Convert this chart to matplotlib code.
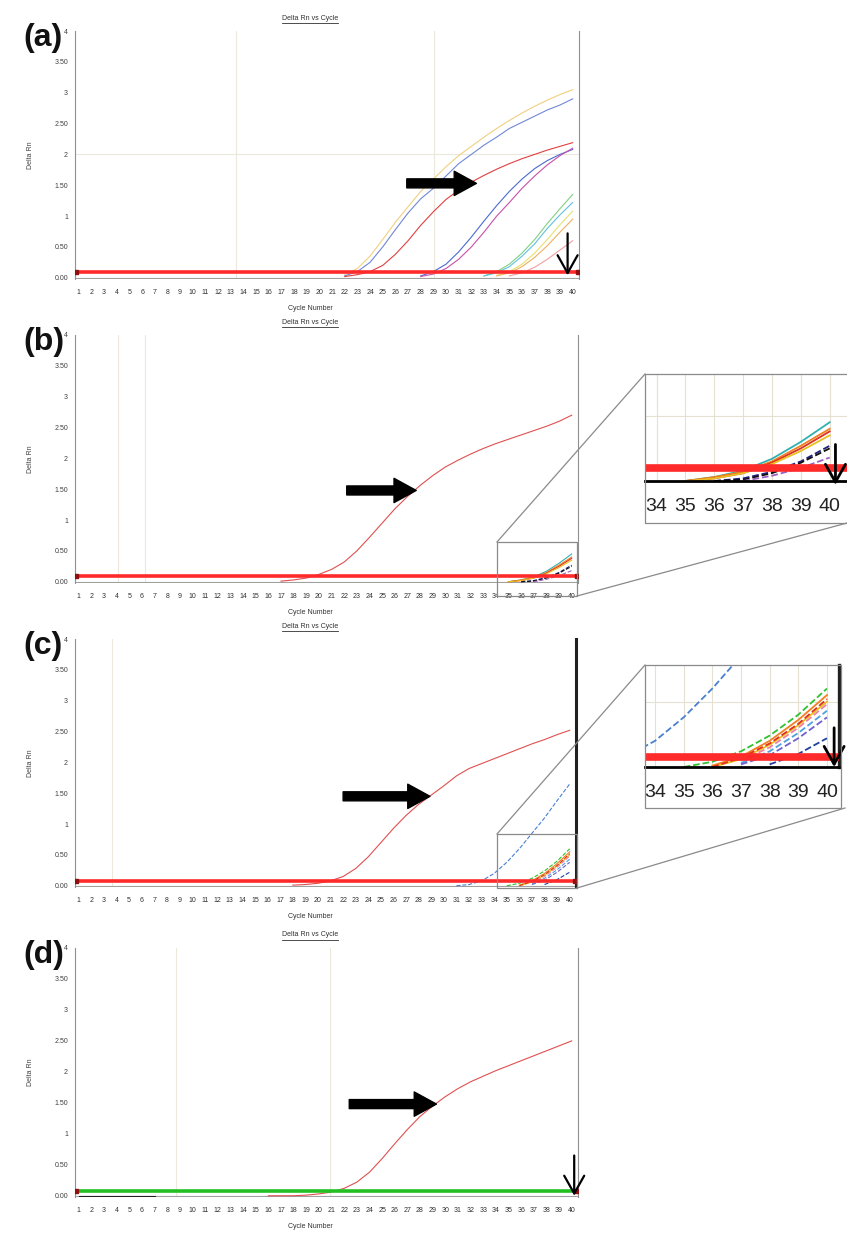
import numpy as np
import matplotlib
matplotlib.use('Agg')
import matplotlib.pyplot as plt
from matplotlib.patches import Rectangle
from matplotlib.lines import Line2D

plt.rcParams['font.family'] = ['Liberation Sans', 'DejaVu Sans']

W, H = 847, 1235

cycles = list(range(1, 41))
y_ticks = [0, 0.5, 1, 1.5, 2, 2.5, 3, 3.5, 4]
y_tick_labels = ['0.00', '0.50', '1', '1.50', '2', '2.50', '3', '3.50', '4']
inset_ticks = [34, 35, 36, 37, 38, 39, 40]

# each curve: (first cycle, Delta Rn values from that cycle to 40)
# panel (a)
a_yellow = (22, [0.05, 0.15, 0.35, 0.62, 0.90, 1.15, 1.40, 1.60, 1.80, 1.98, 2.13, 2.28, 2.42, 2.55, 2.67, 2.78, 2.88, 2.97, 3.05])
a_blue = (22, [0.03, 0.10, 0.25, 0.50, 0.78, 1.05, 1.28, 1.45, 1.65, 1.85, 2.00, 2.15, 2.28, 2.42, 2.52, 2.62, 2.72, 2.80, 2.90])
a_red = (22, [0.02, 0.05, 0.10, 0.20, 0.38, 0.60, 0.85, 1.07, 1.27, 1.42, 1.55, 1.66, 1.76, 1.85, 1.93, 2.00, 2.07, 2.13, 2.19])
a_blue2 = (28, [0.03, 0.10, 0.22, 0.42, 0.66, 0.92, 1.17, 1.40, 1.60, 1.77, 1.90, 2.00, 2.08])
a_magenta = (28, [0.02, 0.06, 0.15, 0.30, 0.50, 0.74, 1.00, 1.22, 1.45, 1.65, 1.83, 1.98, 2.10])
a_green = (33, [0.03, 0.10, 0.22, 0.40, 0.62, 0.88, 1.12, 1.35])
a_cyan = (33, [0.03, 0.08, 0.18, 0.35, 0.55, 0.80, 1.02, 1.22])
a_lyellow = (34, [0.04, 0.10, 0.22, 0.40, 0.62, 0.86, 1.08])
a_orange = (34, [0.03, 0.08, 0.18, 0.33, 0.52, 0.74, 0.95])
a_pink = (35, [0.03, 0.08, 0.17, 0.30, 0.45, 0.60])

# panel (b)
b_red = (17, [0.01, 0.03, 0.06, 0.12, 0.20, 0.32, 0.50, 0.72, 0.95, 1.18, 1.38, 1.56, 1.72, 1.86, 1.97, 2.07, 2.16, 2.24, 2.31, 2.38, 2.45, 2.52, 2.60, 2.70])
b_teal = (35, [0.0, 0.03, 0.08, 0.17, 0.30, 0.45])
b_orange = (35, [0.0, 0.03, 0.07, 0.15, 0.27, 0.40])
b_redlow = (35, [0.0, 0.02, 0.06, 0.14, 0.25, 0.38])
b_yellow = (35, [0.0, 0.02, 0.06, 0.13, 0.23, 0.35])
b_navy = (36, [0.0, 0.02, 0.07, 0.15, 0.27])
b_black = (36, [0.0, 0.01, 0.06, 0.14, 0.25])
b_purple = (37, [0.0, 0.04, 0.10, 0.18])

# panel (c)
c_red = (18, [0.01, 0.02, 0.04, 0.08, 0.15, 0.28, 0.47, 0.70, 0.93, 1.14, 1.32, 1.47, 1.62, 1.78, 1.90, 1.98, 2.06, 2.14, 2.22, 2.30, 2.37, 2.45, 2.52])
c_blue = (31, [0.0, 0.02, 0.08, 0.20, 0.38, 0.60, 0.85, 1.10, 1.38, 1.65])
c_green = (35, [0.0, 0.04, 0.12, 0.24, 0.40, 0.60])
c_orange = (36, [0.01, 0.08, 0.20, 0.36, 0.55])
c_yellow = (36, [0.0, 0.06, 0.17, 0.32, 0.50])
c_redlow = (36, [0.0, 0.07, 0.18, 0.33, 0.52])
c_pink = (37, [0.05, 0.15, 0.30, 0.48])
c_ltblue = (37, [0.03, 0.12, 0.26, 0.43])
c_purple = (37, [0.02, 0.09, 0.22, 0.38])
c_dkblue = (38, [0.02, 0.10, 0.22])

# panel (d)
d_red = (16, [0.0, 0.0, 0.0, 0.01, 0.03, 0.06, 0.12, 0.22, 0.38, 0.60, 0.84, 1.07, 1.28, 1.45, 1.60, 1.73, 1.84, 1.93, 2.02, 2.10, 2.18, 2.26, 2.34, 2.42, 2.50])
d_black = (1, [0.0, 0.0, 0.0, 0.0, 0.0, 0.0, 0.0])

thresholds = {'a': 0.10, 'b': 0.10, 'c': 0.08, 'd': 0.08}

a_curves = [(a_yellow, '#f0d080', '-'), (a_blue, '#7088d8', '-'), (a_red, '#e04040', '-'),
            (a_blue2, '#4a6ad0', '-'), (a_magenta, '#c850a8', '-'), (a_green, '#80d080', '-'),
            (a_cyan, '#60c0e0', '-'), (a_lyellow, '#e8e070', '-'), (a_orange, '#f0b060', '-'),
            (a_pink, '#f0a0a0', '-')]
b_curves = [(b_red, '#e05050', '-'), (b_teal, '#30b0b0', '-'), (b_orange, '#f08020', '-'),
            (b_redlow, '#e03020', '-'), (b_yellow, '#e8c020', '-'), (b_navy, '#202080', '--'),
            (b_black, '#101010', '--'), (b_purple, '#a060c0', '--')]
c_curves = [(c_red, '#e05050', '-'), (c_blue, '#4a80d0', '--'), (c_green, '#30c030', '--'),
            (c_orange, '#f08020', '-'), (c_yellow, '#e8c020', '-'), (c_redlow, '#e03020', '--'),
            (c_pink, '#f080a0', '--'), (c_ltblue, '#50a0e0', '--'), (c_purple, '#7060d0', '--'),
            (c_dkblue, '#2040a0', '--')]
d_curves = [(d_red, '#e05050', '-'), (d_black, '#202020', '-')]

fig = plt.figure(figsize=(W / 100, H / 100), dpi=100)


def px_axes(l, t, r, b):
    return fig.add_axes([l / W, 1 - b / H, (r - l) / W, (b - t) / H])


def plot_curves(ax, curves, lw=0.8):
    for (start, vals), col, ls in curves:
        xs = np.arange(start, start + len(vals))
        ax.plot(xs, vals, color=col, lw=lw, ls=ls, zorder=2)


panels = [
    ('(a)', 31, 279, 579, a_curves, 'a', '#ff2a2a', '#909090', 0.8),
    ('(b)', 335, 583, 578, b_curves, 'b', '#ff2a2a', '#909090', 0.8),
    ('(c)', 639, 887, 576, c_curves, 'c', '#ff2a2a', '#202020', 2.2),
    ('(d)', 948, 1197, 578, d_curves, 'd', '#22c022', '#909090', 0.8),
]
faint_grid = {'a': ([13.45, 29.05], [2]), 'b': ([4.1, 6.2], []),
              'c': ([3.6], []), 'd': ([8.7, 20.9], [])}

titles = []
axes = {}
for label, top, bottom, right, curves, key, thr_col, rs_col, rs_lw in panels:
    ax = px_axes(75, top, right, bottom)
    axes[key] = ax
    ax.set_xlim(0.7, 40.5)
    ax.set_ylim(-0.02, 4.0)
    for gx in faint_grid[key][0]:
        ax.axvline(gx, color='#ece8dc', lw=0.8, zorder=0)
    for gy in faint_grid[key][1]:
        ax.axhline(gy, color='#ece8dc', lw=0.8, zorder=0)
    ax.axhline(0, color='#a0a0a0', lw=0.8, zorder=1)
    plot_curves(ax, curves)
    thr = thresholds[key]
    ax.plot([0.75, 40.45], [thr, thr], color=thr_col, lw=2.6, zorder=4,
            marker='s', markersize=2.5, markerfacecolor='#901010', markeredgecolor='#901010')
    ax.set_xticks(cycles)
    ax.set_xticklabels([str(c) for c in cycles], fontsize=5, color='#303030')
    ax.set_yticks(y_ticks)
    ax.set_yticklabels(y_tick_labels, fontsize=5, color='#404040')
    ax.tick_params(axis='x', length=0, pad=7)
    ax.tick_params(axis='y', length=0, pad=5)
    ax.spines['top'].set_visible(False)
    ax.spines['bottom'].set_visible(False)
    ax.spines['left'].set_color('#909090')
    ax.spines['left'].set_linewidth(0.8)
    ax.spines['right'].set_color(rs_col)
    ax.spines['right'].set_linewidth(rs_lw)
    ax.set_facecolor('none')

    titles.append(fig.text(310 / W, 1 - (top - 13) / H, 'Delta Rn vs Cycle', fontsize=5,
                           ha='center', va='center', color='#303030'))
    fig.text(310 / W, 1 - (bottom + 29) / H, 'Cycle Number', fontsize=5,
             ha='center', va='center', color='#303030')
    fig.text(30 / W, 1 - (top + bottom) / 2 / H, 'Delta Rn', fontsize=5, rotation=90,
             ha='center', va='center', color='#404040')
    fig.text(23 / W, 1 - (top - 8) / H, label, fontsize=23, fontweight='bold',
             ha='left', va='top', color='#111111')

# big pointing arrows
big_arrows = {'a': (26.9, 32.4, 1.53), 'b': (22.2, 27.7, 1.48),
              'c': (22.0, 28.9, 1.45), 'd': (22.4, 29.3, 1.48)}
for key, (x0, x1, yv) in big_arrows.items():
    axes[key].annotate('', xy=(x1, yv), xytext=(x0, yv),
                       arrowprops=dict(arrowstyle='simple,head_length=1.6,head_width=1.75,tail_width=0.65',
                                       mutation_scale=10, color='black', shrinkA=0, shrinkB=0), zorder=6)

# thin down arrows at cycle 40
for key, (xv, y0, y1) in {'a': (39.6, 0.72, 0.04), 'd': (40.2, 0.65, 0.0)}.items():
    axes[key].annotate('', xy=(xv, y1), xytext=(xv, y0), annotation_clip=False,
                       arrowprops=dict(arrowstyle='->,head_length=0.8,head_width=0.45',
                                       mutation_scale=16, color='black', lw=1.6, shrinkA=0, shrinkB=0), zorder=6)


def make_inset(key, curves, box, plot_px, xlim, ylim, right_spine, arrow):
    l, t, r, b = plot_px
    ins = px_axes(l, t, r, b)
    ins.set_xlim(*xlim)
    ins.set_ylim(*ylim)
    for c in inset_ticks:
        ins.axvline(c, color='#e4e0d2', lw=0.8, zorder=0)
    ins.axhline(0.5, color='#e4e0d2', lw=0.8, zorder=0)
    plot_curves(ins, curves, lw=1.3)
    thr = thresholds[key]
    ins.plot([xlim[0], xlim[1]], [thr, thr], color='#ff2a2a', lw=5.5, zorder=4, solid_capstyle='butt')
    ins.set_xticks(inset_ticks)
    ins.set_xticklabels([str(c) for c in inset_ticks], fontsize=14, color='#222222')
    ins.tick_params(axis='x', length=0, pad=12)
    ins.set_yticks([])
    for s in ['top', 'left']:
        ins.spines[s].set_visible(False)
    ins.spines['bottom'].set_color('black')
    ins.spines['bottom'].set_linewidth(2.0)
    if right_spine:
        ins.spines['right'].set_color('#202020')
        ins.spines['right'].set_linewidth(2.4)
    else:
        ins.spines['right'].set_visible(False)
    xa, ya0, ya1 = arrow
    ins.annotate('', xy=(xa, ya1), xytext=(xa, ya0), annotation_clip=False,
                 arrowprops=dict(arrowstyle='->,head_length=0.8,head_width=0.45',
                                 mutation_scale=16, color='black', lw=2.0, shrinkA=0, shrinkB=0), zorder=6)
    bl, bt, br, bb = box
    fig.patches.append(Rectangle((bl / W, 1 - bb / H), (br - bl) / W, (bb - bt) / H,
                                 transform=fig.transFigure, fill=False, ec='#8a8a8a', lw=0.9))
    return ins


make_inset('b', b_curves, (645, 374, 849, 523), (645, 374, 847, 481), (33.6, 40.6), (0.0, 0.82),
           False, (40.2, 0.28, -0.03))
make_inset('c', c_curves, (645, 665, 841, 808), (645, 665, 839, 767), (33.65, 40.42), (0.0, 0.78),
           True, (40.25, 0.30, 0.0))

# zoom boxes on the main panels and connector lines
for (bl, bt, br, bb), lines in [((497, 542, 577, 596), [((497, 542), (645, 374)), ((577, 596), (847, 523))]),
                                ((497, 834, 577, 888), [((497, 834), (645, 665)), ((577, 888), (845, 808))])]:
    fig.patches.append(Rectangle((bl / W, 1 - bb / H), (br - bl) / W, (bb - bt) / H,
                                 transform=fig.transFigure, fill=False, ec='#8a8a8a', lw=0.9))
    for (x0, y0), (x1, y1) in lines:
        fig.lines.append(Line2D([x0 / W, x1 / W], [1 - y0 / H, 1 - y1 / H],
                                transform=fig.transFigure, color='#8a8a8a', lw=0.9))

# underline the panel titles
fig.canvas.draw()
rend = fig.canvas.get_renderer()
inv = fig.transFigure.inverted()
for t in titles:
    bb = t.get_window_extent(rend)
    (x0, y0), (x1, _) = inv.transform([(bb.x0, bb.y0 - 1), (bb.x1, bb.y0 - 1)])
    fig.lines.append(Line2D([x0, x1], [y0, y0], transform=fig.transFigure, color='#303030', lw=0.6))

fig.savefig('out.png', dpi=100, facecolor='white')
